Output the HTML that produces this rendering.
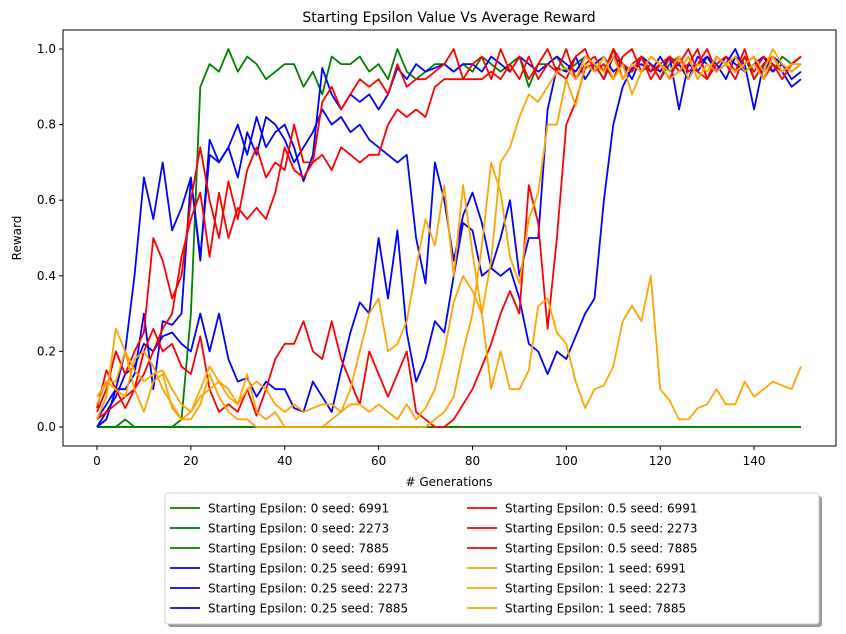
<!DOCTYPE html>
<html><head><meta charset="utf-8"><style>
body{margin:0;background:#fff;font-family:"Liberation Sans","DejaVu Sans",sans-serif}
svg{display:block}
text{font-family:"DejaVu Sans","Liberation Sans",sans-serif;fill:#000}
</style></head><body>
<svg id="chart" width="846" height="634" viewBox="0 0 846 634" xmlns="http://www.w3.org/2000/svg">
<rect width="846" height="634" fill="#fff"/>
<text x="449" y="22" font-size="14" text-anchor="middle">Starting Epsilon Value Vs Average Reward</text>
<g id="plot"></g>
<rect x="63" y="30" width="773" height="416" fill="none" stroke="#000" stroke-width="1"/>
<g id="ticks"></g>
<text x="449" y="486" font-size="12" text-anchor="middle"># Generations</text>
<text x="21" y="238" font-size="12" text-anchor="middle" transform="rotate(-90 21 238)">Reward</text>
<g id="legend"></g>
</svg>
<script>
const generations = [];
for (let g = 0; g <= 150; g += 2) generations.push(g);
const xTicks = [0,20,40,60,80,100,120,140];
const yTicks = [0,0.2,0.4,0.6,0.8,1.0];
const seriesLabels = ["Starting Epsilon: 0 seed: 6991","Starting Epsilon: 0 seed: 2273","Starting Epsilon: 0 seed: 7885",
"Starting Epsilon: 0.25 seed: 6991","Starting Epsilon: 0.25 seed: 2273","Starting Epsilon: 0.25 seed: 7885",
"Starting Epsilon: 0.5 seed: 6991","Starting Epsilon: 0.5 seed: 2273","Starting Epsilon: 0.5 seed: 7885",
"Starting Epsilon: 1 seed: 6991","Starting Epsilon: 1 seed: 2273","Starting Epsilon: 1 seed: 7885"];
const seriesColors = ["green","green","green","blue","blue","blue","red","red","red","orange","orange","orange"];
const g1 = [0,0,0,0,0,0,0,0,0,0.02, 0.3,0.9,0.96,0.94,1.0,0.94,0.98,0.96,0.92,0.94, 0.96,0.96,0.9,0.94,0.88,0.98,0.96,0.96,0.98,0.94, 0.96,0.92,1.0,0.94,0.92,0.94,0.96,0.96,0.94,0.96, 0.94,0.98,0.96,0.94,0.96,0.98,0.9,0.96,0.96,0.98, 0.94,0.96,0.98,0.96,0.94,1.0,0.96,0.94,0.98,0.96, 0.92,0.96,0.98,0.94,0.96,0.98,0.94,0.96,0.94,0.98, 0.92,0.96,0.94,0.98,0.96,0.98];
const g2 = [0,0,0,0.02,0,0,0,0,0,0, 0,0,0,0,0,0,0,0,0,0, 0,0,0,0,0,0,0,0,0,0, 0,0,0,0,0,0,0,0,0,0, 0,0,0,0,0,0,0,0,0,0, 0,0,0,0,0,0,0,0,0,0, 0,0,0,0,0,0,0,0,0,0, 0,0,0,0,0,0];
const g3 = [0,0,0,0,0,0,0,0,0,0, 0,0,0,0,0,0,0,0,0,0, 0,0,0,0,0,0,0,0,0,0, 0,0,0,0,0,0,0,0,0,0, 0,0,0,0,0,0,0,0,0,0, 0,0,0,0,0,0,0,0,0,0, 0,0,0,0,0,0,0,0,0,0, 0,0,0,0,0,0];
const b1 = [0,0.02,0.1,0.2,0.4,0.66,0.55,0.7,0.52,0.58, 0.66,0.45,0.72,0.7,0.74,0.8,0.72,0.82,0.74,0.78, 0.8,0.74,0.65,0.72,0.95,0.88,0.84,0.88,0.86,0.88, 0.84,0.88,0.95,0.92,0.96,0.94,0.95,0.96,0.94,0.96, 0.96,0.94,0.98,0.96,0.94,0.98,0.96,0.94,0.96,0.98, 0.96,0.94,0.98,0.96,0.92,0.98,0.96,0.94,0.98,0.96, 0.94,0.98,0.84,0.96,0.94,0.98,0.96,0.92,0.98,0.96, 0.84,0.96,0.98,0.94,0.9,0.92];
const b2 = [0.02,0.06,0.1,0.1,0.14,0.3,0.1,0.28,0.27,0.3, 0.66,0.44,0.76,0.7,0.74,0.66,0.78,0.72,0.82,0.8, 0.76,0.7,0.74,0.78,0.84,0.8,0.82,0.78,0.8,0.76, 0.74,0.72,0.7,0.72,0.5,0.38,0.7,0.6,0.44,0.56, 0.62,0.54,0.42,0.4,0.42,0.34,0.22,0.2,0.14,0.2, 0.18,0.24,0.3,0.34,0.6,0.8,0.9,0.95,0.96,0.94, 0.98,0.94,0.96,0.92,0.98,0.96,0.94,0.98,0.96,0.94, 0.96,0.94,0.98,0.96,0.94,0.96];
const b3 = [0,0.04,0.08,0.14,0.16,0.22,0.2,0.24,0.25,0.22, 0.2,0.3,0.2,0.3,0.18,0.12,0.13,0.08,0.12,0.1, 0.1,0.05,0.04,0.12,0.08,0.04,0.15,0.25,0.33,0.3, 0.5,0.34,0.52,0.25,0.12,0.18,0.28,0.25,0.4,0.54, 0.52,0.4,0.42,0.5,0.6,0.4,0.5,0.5,0.84,0.95, 0.94,0.98,0.92,0.96,0.98,0.94,0.96,0.92,0.98,0.96, 0.94,0.98,0.96,0.92,0.96,0.98,0.94,0.96,1.0,0.94, 0.96,0.98,0.94,0.96,0.92,0.94];
const r1 = [0.04,0.1,0.2,0.14,0.2,0.25,0.5,0.44,0.34,0.4, 0.6,0.74,0.6,0.5,0.65,0.55,0.68,0.74,0.66,0.7, 0.68,0.8,0.7,0.7,0.86,0.9,0.84,0.88,0.92,0.9, 0.92,0.88,0.96,0.9,0.92,0.92,0.94,0.96,1.0,0.92, 0.96,0.98,0.92,1.0,0.94,0.98,0.92,0.96,1.0,0.94, 0.92,0.98,1.0,0.94,0.96,0.92,0.98,1.0,0.94,0.96, 0.92,0.98,0.96,1.0,0.94,0.92,0.98,0.96,0.94,1.0, 0.92,0.96,0.98,0.94,0.96,0.98];
const r2 = [0.02,0.04,0.06,0.08,0.1,0.14,0.2,0.26,0.3,0.45, 0.55,0.62,0.45,0.62,0.5,0.58,0.55,0.58,0.55,0.62, 0.74,0.68,0.66,0.7,0.72,0.68,0.74,0.72,0.7,0.72, 0.72,0.8,0.84,0.82,0.84,0.82,0.9,0.92,0.92,0.92, 0.92,0.92,0.94,0.92,0.96,0.92,0.98,0.92,0.96,0.94, 1.0,0.92,0.96,0.98,0.94,1.0,0.92,0.96,0.98,0.94, 0.96,0.92,0.98,0.94,0.96,1.0,0.94,0.96,0.92,0.98, 0.94,0.98,0.96,0.92,0.96,0.98];
const r3 = [0.05,0.15,0.1,0.05,0.1,0.2,0.26,0.2,0.22,0.16, 0.14,0.24,0.1,0.04,0.06,0.04,0.1,0.03,0.1,0.18, 0.22,0.22,0.28,0.2,0.18,0.28,0.18,0.12,0.06,0.2, 0.14,0.08,0.14,0.2,0.04,0.02,0,0,0.02,0.06, 0.1,0.16,0.22,0.3,0.36,0.3,0.64,0.54,0.26,0.5, 0.8,0.86,0.95,0.96,0.92,1.0,0.96,0.94,0.98,0.92, 0.96,0.98,0.94,0.96,1.0,0.92,0.96,0.98,0.94,0.96, 0.98,0.92,0.96,0.94,0.96,0.98];
const o1 = [0.06,0.12,0.12,0.2,0.15,0.12,0.14,0.15,0.1,0.06, 0.04,0.08,0.1,0.12,0.08,0.06,0.1,0.12,0.1,0.06, 0.04,0.06,0.04,0.05,0.06,0.06,0.04,0.1,0.2,0.3, 0.34,0.2,0.22,0.28,0.42,0.55,0.48,0.64,0.4,0.64, 0.46,0.3,0.44,0.7,0.74,0.82,0.88,0.86,0.9,0.94, 0.95,0.92,0.98,0.96,0.94,0.98,0.92,0.96,0.94,0.98, 0.96,0.94,0.98,0.92,0.96,0.94,0.98,0.96,0.94,0.96, 0.98,0.94,1.0,0.96,0.94,0.96];
const o2 = [0.02,0.08,0.26,0.2,0.1,0.04,0.12,0.14,0.05,0.02, 0.02,0.06,0.14,0.08,0.04,0.02,0.02,0,0,0, 0,0,0,0,0,0,0,0,0,0, 0,0,0,0,0,0,0.02,0.04,0.08,0.2, 0.3,0.48,0.7,0.62,0.45,0.38,0.55,0.62,0.8,0.8, 0.92,0.85,0.96,0.94,0.98,0.92,0.96,0.88,0.94,0.98, 0.96,0.92,0.94,0.98,0.92,0.96,0.94,0.96,0.98,0.94, 0.96,0.92,0.98,0.94,0.96,0.96];
const o3 = [0.08,0.12,0.1,0.08,0.18,0.2,0.16,0.1,0.06,0.02, 0.04,0.1,0.16,0.12,0.1,0.06,0.14,0.04,0.02,0.04, 0,0,0,0,0,0.02,0.04,0.06,0.06,0.04, 0.06,0.04,0.02,0.06,0.02,0.05,0.1,0.2,0.33,0.4, 0.36,0.3,0.1,0.2,0.1,0.1,0.15,0.32,0.34,0.25, 0.22,0.12,0.05,0.1,0.11,0.16,0.28,0.32,0.28,0.4, 0.1,0.07,0.02,0.02,0.05,0.06,0.1,0.06,0.06,0.12, 0.08,0.1,0.12,0.11,0.1,0.16];
const seriesValues = [g1,g2,g3,b1,b2,b3,r1,r2,r3,o1,o2,o3];
const seriesNames = ["green-eps0-6991","green-eps0-2273","green-eps0-7885","blue-eps025-6991","blue-eps025-2273","blue-eps025-7885","red-eps05-6991","red-eps05-2273","red-eps05-7885","orange-eps1-6991","orange-eps1-2273","orange-eps1-7885"];

const NS = "http://www.w3.org/2000/svg";
function xScale(v){ return 97 + v * (704/150); }
function yScale(v){ return 427 - v * 378; }
function mk(tag, attrs, parent){ const e=document.createElementNS(NS,tag); for(const k in attrs) e.setAttribute(k,attrs[k]); parent.appendChild(e); return e; }

const plot = document.getElementById('plot');
seriesValues.forEach((vals, i) => {
  const pts = vals.map((v, j) => xScale(generations[j]).toFixed(1) + ',' + yScale(v).toFixed(1)).join(' ');
  const pl = mk('polyline', {points: pts, fill: 'none', stroke: seriesColors[i], 'stroke-width': 1.8, 'stroke-linejoin': 'round'}, plot);
  
  
});

const ticks = document.getElementById('ticks');
xTicks.forEach(t => {
  const x = xScale(t);
  const l = mk('line', {x1: x, x2: x, y1: 446, y2: 450, stroke: '#000'}, ticks);
  
  
  const tx = mk('text', {x: x, y: 465, 'font-size': 12, 'text-anchor': 'middle'}, ticks);
  tx.textContent = t;
  
  
});
yTicks.forEach(t => {
  const y = yScale(t);
  const l = mk('line', {x1: 59, x2: 63, y1: y, y2: y, stroke: '#000'}, ticks);
  
  
  const tx = mk('text', {x: 56, y: y + 4, 'font-size': 12, 'text-anchor': 'end'}, ticks);
  tx.textContent = t.toFixed(1);
  
  
});

const legend = document.getElementById('legend');
const sh = mk('rect', {x: 168, y: 496, width: 654, height: 131, rx: 3, fill: '#999'}, legend);


const box = mk('rect', {x: 165, y: 493, width: 654, height: 131, rx: 3, fill: '#fff', stroke: '#ccc'}, legend);


seriesLabels.forEach((lab, i) => {
  const col = i < 6 ? 0 : 1;
  const row = i % 6;
  const x0 = col === 0 ? 170 : 467;
  const y = 508 + row * 20;
  const g = mk('g', {}, legend);
  
  
  mk('line', {x1: x0, x2: x0 + 30, y1: y, y2: y, stroke: seriesColors[i], 'stroke-width': 1.8}, g);
  const t = mk('text', {x: x0 + 38, y: y + 4.5, 'font-size': 12}, g);
  t.textContent = lab;
});
</script>
</body></html>
